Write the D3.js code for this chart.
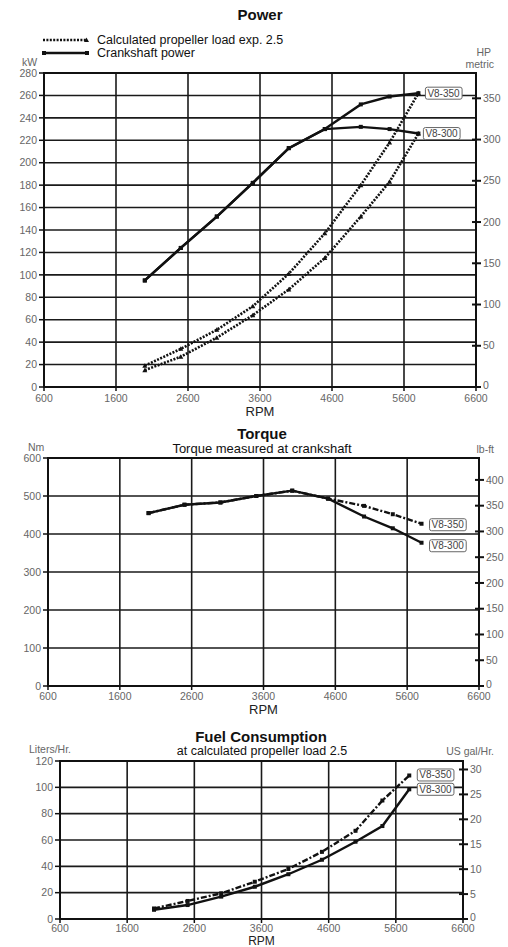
<!DOCTYPE html>
<html lang="en">
<head>
  <meta charset="UTF-8">
  <title>V8 Power, Torque and Fuel Consumption</title>
  <script src="https://d3js.org/d3.v7.min.js"></script>
  <style>
    body { margin: 0; background: #fff; font-family: "Liberation Sans", Arial, sans-serif; }
    .tick-label { font-size: 10.5px; fill: #666; }
    .unit { font-size: 10.5px; fill: #666; }
    .grid { stroke: #1a1a1a; stroke-width: 1.6; }
  </style>
</head>
<body>
  <div id="chart"></div>

  <script>
    // ---- data ----
    const rpm = [2000, 2500, 3000, 3500, 4000, 4500, 5000, 5400, 5800];

    // Power, kW
    const crank350 = [95, 124, 152, 182, 213, 230, 252, 259, 262];
    const crank300 = [95, 124, 152, 182, 213, 230, 232, 230, 226];
    const prop350  = [19, 34, 51, 72, 101, 137, 180, 218, 262];
    const prop300  = [15, 27, 44, 64, 87, 115, 152, 183, 226];

    // Torque, Nm
    const torque350 = [455, 477, 483, 500, 514, 493, 474, 452, 427];
    const torque300 = [455, 477, 483, 500, 514, 493, 446, 415, 377];

    // Fuel, liters/hr
    const fuel350 = [8, 13.7, 19.5, 28.3, 38, 51, 67, 90, 109];
    const fuel300 = [7, 10.6, 17, 24.5, 34, 45, 58.7, 70.6, 98.5];

    const rpmTicks = [600, 1600, 2600, 3600, 4600, 5600, 6600];
    const kwTicks = d3.range(0, 281, 20);
    const hpTicks = d3.range(0, 351, 50);
    const nmTicks = d3.range(0, 601, 100);
    const lbftTicks = d3.range(0, 401, 50);
    const lphTicks = d3.range(0, 121, 20);
    const galTicks = d3.range(0, 31, 5);

    const svg = d3.select("#chart").append("svg")
      .attr("width", 508).attr("height", 947);

    // draws grid, frame, both axes and the RPM label of one panel
    function panel(p) {
      const x = d3.scaleLinear().domain([600, 6600]).range([p.x0, p.x1]);
      const y = d3.scaleLinear().domain([0, p.yMax]).range([p.y0, p.y1]);
      const y2 = d3.scaleLinear().domain([0, p.yMax / p.factor]).range([p.y0, p.y1]);
      const g = svg.append("g");

      g.selectAll(".h").data(p.yTicks).join("line").attr("class", "grid")
        .attr("x1", p.x0).attr("x2", p.x1).attr("y1", d => y(d)).attr("y2", d => y(d));
      g.selectAll(".v").data(rpmTicks).join("line").attr("class", "grid")
        .attr("y1", p.y0).attr("y2", p.y1).attr("x1", d => x(d)).attr("x2", d => x(d));
      g.append("rect").attr("x", p.x0).attr("y", p.y1)
        .attr("width", p.x1 - p.x0).attr("height", p.y0 - p.y1)
        .attr("fill", "none").attr("stroke", "#111").attr("stroke-width", 2);

      // left axis
      p.yTicks.forEach(t => {
        g.append("line").attr("x1", p.x0 - 5).attr("x2", p.x0).attr("y1", y(t)).attr("y2", y(t))
          .attr("stroke", "#111").attr("stroke-width", 1.5);
        g.append("text").attr("class", "tick-label").attr("x", p.x0 - 7).attr("y", y(t))
          .attr("dy", "0.35em").attr("text-anchor", "end").text(t);
      });
      // right axis
      p.y2Ticks.forEach(t => {
        g.append("line").attr("x1", p.x1 - 4).attr("x2", p.x1 + 5).attr("y1", y2(t)).attr("y2", y2(t))
          .attr("stroke", "#111").attr("stroke-width", 2);
        g.append("text").attr("class", "tick-label").attr("x", p.x1 + 7)
          .attr("y", y2(t) - (t === 0 ? 2 : 0))
          .attr("dy", "0.35em").text(t);
      });
      // bottom axis
      rpmTicks.forEach(t => {
        g.append("line").attr("x1", x(t)).attr("x2", x(t)).attr("y1", p.y0).attr("y2", p.y0 + 4)
          .attr("stroke", "#111").attr("stroke-width", 1.5);
        g.append("text").attr("class", "tick-label").attr("x", x(t)).attr("y", p.y0 + p.tickGap)
          .attr("dy", "0.35em").attr("text-anchor", "middle").text(t);
      });
      g.append("text").attr("x", (p.x0 + p.x1) / 2).attr("y", p.y0 + p.rpmGap)
        .attr("dy", "0.35em").attr("text-anchor", "middle")
        .style("font-size", p.rpmSize + "px").style("fill", "#222").text("RPM");

      return { x, y, g };
    }

    function series(s, vals, dash, marker) {
      const pts = rpm.map((r, i) => [s.x(r), s.y(vals[i])]);
      s.g.append("path").datum(pts).attr("fill", "none").attr("stroke", "#111")
        .attr("stroke-width", dash === "2,1.4" ? 2.6 : 2.4)
        .attr("stroke-dasharray", dash).attr("d", d3.line());
      s.g.selectAll(null).data(pts).join("path")
        .attr("transform", d => `translate(${d[0]},${d[1]})`)
        .attr("fill", "#111")
        .attr("d", marker === "tri" ? "M-2.5,2L2.5,2L0,-2.5Z" : "M-2,-2H2V2H-2Z");
      return pts[pts.length - 1];
    }

    function tag(s, pt, txt, dx, dy) {
      const t = s.g.append("text").attr("x", pt[0] + dx + 2).attr("y", pt[1] + dy)
        .attr("dy", "0.35em").style("font-size", "10px").style("fill", "#444").text(txt);
      const bb = t.node().getBBox();
      s.g.insert("rect", "text:last-child").attr("x", bb.x - 2).attr("y", bb.y - 0.5)
        .attr("width", bb.width + 4).attr("height", bb.height + 1).attr("rx", 2)
        .attr("fill", "#fff").attr("stroke", "#666").attr("stroke-width", 1);
      t.raise();
    }

    function title(txt, cx, cy, size, bold) {
      svg.append("text").attr("x", cx).attr("y", cy).attr("dy", "0.35em")
        .attr("text-anchor", "middle").style("font-size", size + "px")
        .style("font-weight", bold ? "bold" : "normal").style("fill", "#111").text(txt);
    }

    function unit(txt, xx, yy, anchor) {
      svg.append("text").attr("class", "unit").attr("x", xx).attr("y", yy)
        .attr("dy", "0.35em").attr("text-anchor", anchor).text(txt);
    }

    // ---- Power ----
    const pw = panel({ x0: 44, x1: 476, y0: 387, y1: 73, yMax: 280, factor: 0.73549875,
                       yTicks: kwTicks, y2Ticks: hpTicks, tickGap: 11, rpmGap: 24, rpmSize: 13 });
    series(pw, prop350, "2,1.4", "tri");
    series(pw, prop300, "2,1.4", "tri");
    const c300 = series(pw, crank300, null, "sq");
    const c350 = series(pw, crank350, null, "sq");
    tag(pw, c350, "V8-350", 7, 0);
    tag(pw, c300, "V8-300", 5, 0);
    title("Power", 260, 15, 15, true);
    unit("kW", 22, 62, "start");
    unit("HP", 491, 52, "end");
    unit("metric", 494, 64, "end");

    // legend
    const lg = svg.append("g");
    lg.append("line").attr("x1", 43).attr("x2", 87).attr("y1", 40).attr("y2", 40)
      .attr("stroke", "#111").attr("stroke-width", 2.4).attr("stroke-dasharray", "2,1.4");
    lg.append("path").attr("d", "M84,42L89,42L86.5,37.5Z").attr("fill", "#111");
    lg.append("line").attr("x1", 43).attr("x2", 87).attr("y1", 53).attr("y2", 53)
      .attr("stroke", "#111").attr("stroke-width", 2.4);
    lg.append("rect").attr("x", 42).attr("y", 51).attr("width", 4).attr("height", 4).attr("fill", "#111");
    lg.append("rect").attr("x", 85).attr("y", 51).attr("width", 4).attr("height", 4).attr("fill", "#111");
    lg.append("text").attr("x", 97).attr("y", 40).attr("dy", "0.35em")
      .style("font-size", "12.5px").style("fill", "#111").text("Calculated propeller load exp. 2.5");
    lg.append("text").attr("x", 97).attr("y", 53).attr("dy", "0.35em")
      .style("font-size", "12.5px").style("fill", "#111").text("Crankshaft power");

    // ---- Torque ----
    const tq = panel({ x0: 48, x1: 479, y0: 686, y1: 458, yMax: 600, factor: 1.35582,
                       yTicks: nmTicks, y2Ticks: lbftTicks, tickGap: 10, rpmGap: 23, rpmSize: 13 });
    const t350 = series(tq, torque350, "6,2,2,2", "sq");
    const t300 = series(tq, torque300, null, "sq");
    tag(tq, t350, "V8-350", 8, 1);
    tag(tq, t300, "V8-300", 8, 3);
    title("Torque", 262, 434, 15, true);
    title("Torque measured at crankshaft", 262, 448, 13, false);
    unit("Nm", 28, 447, "start");
    unit("lb-ft", 494, 449, "end");

    // ---- Fuel Consumption ----
    const fu = panel({ x0: 60, x1: 463, y0: 919, y1: 761, yMax: 120, factor: 3.78541,
                       yTicks: lphTicks, y2Ticks: galTicks, tickGap: 9, rpmGap: 22, rpmSize: 12 });
    const f350 = series(fu, fuel350, "6,2,2,2", "sq");
    const f300 = series(fu, fuel300, null, "sq");
    tag(fu, f350, "V8-350", 8, -0.5);
    tag(fu, f300, "V8-300", 8, 0);
    title("Fuel Consumption", 261, 737, 15, true);
    title("at calculated propeller load 2.5", 262, 751, 12.5, false);
    unit("Liters/Hr.", 29, 749, "start");
    unit("US gal/Hr.", 494, 751, "end");
  </script>
</body>
</html>
